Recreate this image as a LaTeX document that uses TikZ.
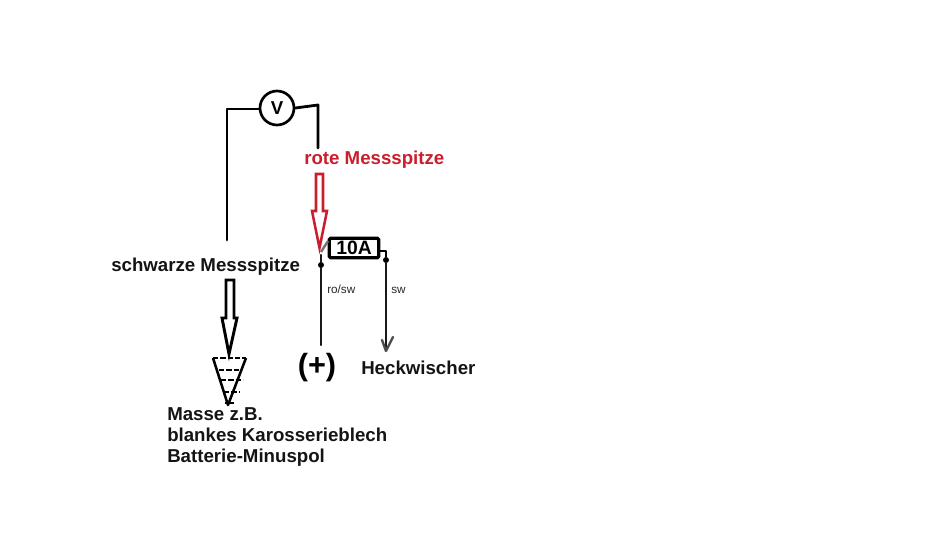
\documentclass[tikz,border=0pt]{standalone}
\usepackage{fontspec}
\setmainfont{Liberation Sans}
\definecolor{redtip}{RGB}{200,30,45}
\tikzset{
  x=0.75pt,y=-0.75pt,
  wire/.style={draw=black,line width=2.1pt,line cap=round,line join=round},
  thin wire/.style={draw=black!90,line width=1.6pt,line cap=round},
  label/.style={font=\fontsize{14pt}{16pt}\selectfont\bfseries,inner sep=0pt,anchor=base west,text=black!92},
  small/.style={font=\fontsize{8.8pt}{10pt}\selectfont,inner sep=0pt,anchor=base west,text=black!85},
  dot/.style={circle,fill=black,inner sep=0pt,minimum size=4.5pt},
}
\begin{document}
\begin{tikzpicture}
\useasboundingbox (0,0) rectangle (950,549);
% voltmeter and leads
\node[circle,draw=black,line width=2pt,minimum size=25.5pt,inner sep=0pt,font=\fontsize{14pt}{16pt}\selectfont\bfseries] (vm) at (277,108) {V};
\coordinate (lb) at (227,240);
\coordinate (lc) at (227,109);
\coordinate (rc) at (318,105);
\coordinate (re) at (318,148);
\draw[wire] (vm.west |- 0,109) -- (lc) -- (lb);
\draw[wire] (vm.east) -- (rc) -- (re);
% texts
\node[label,text=redtip] (rot) at (304,165) {rote Messspitze};
\node[label] (schw) at (111,272) {schwarze Messspitze};
\node[label] (heck) at (361,374) {Heckwischer};
\node[label] (m1) at (167,420) {Masse z.B.};
\node[label] (m2) at (167,441) {blankes Karosserieblech};
\node[label] (m3) at (167,462) {Batterie-Minuspol};
\node[small] (rosw) at (327,293) {ro/sw};
\node[small] (sw) at (391,293) {sw};
\node[font=\fontsize{23pt}{25pt}\selectfont\bfseries,inner sep=0pt] (plus) at (317,368) {(+)};
% fuse
\node[draw=black,line width=2.4pt,minimum width=37pt,minimum height=14.5pt,inner sep=0pt,rounded corners=1pt,font=\fontsize{14.5pt}{16pt}\selectfont\bfseries] (fuse) at (354,248) {10A};
% circuit
\node[dot] (d1) at (321,265) {};
\node[dot] (d2) at (386,260) {};
\coordinate (plusend) at (321,345);
\coordinate (wipe) at (386,350);
\coordinate (fr) at (386,251);
\draw[black!55,line width=1.8pt] (321,252) -- (328,241);
\draw[thin wire] (321,255) -- (d1) -- (plusend);
\draw[wire,line width=2pt] (fuse.east |- fr) -- (fr) -- (d2);
\draw[thin wire] (d2) -- (wipe);
\draw[black!70,line width=1.8pt,line cap=round,line join=round] (382,340) -- (386,351) -- (393,337);
% red arrow
\draw[draw=redtip,line width=1.9pt,line join=miter] (316,174) -- (323,174) -- (323,211) -- (327,211) -- (319.5,248) -- (312,211) -- (316,211) -- cycle;
% black arrow
\draw[draw=black,line width=2.2pt,line join=miter] (226,280) -- (234,280) -- (234,318) -- (237,318) -- (229,354) -- (222,318) -- (226,318) -- cycle;
% ground wedge
\coordinate (ga) at (213,358);
\coordinate (gb) at (246,358);
\coordinate (gc) at (228,405);
\draw[black,line width=1.9pt,line join=round] (ga) -- (gc) -- (gb);
\draw[black,line width=1.7pt,dash pattern=on 4pt off 1.5pt] (ga) -- (gb);
\draw[black,line width=1.5pt,dash pattern=on 4pt off 1.5pt] (219,370) -- (241,370);
\draw[black,line width=1.5pt,dash pattern=on 4pt off 1.5pt] (221,380) -- (243,380);
\draw[black,line width=1.5pt,dash pattern=on 4pt off 1.5pt] (224,392) -- (240,392);
\draw[black,line width=1.3pt] (225,403) -- (234,403);
\end{tikzpicture}
\end{document}
